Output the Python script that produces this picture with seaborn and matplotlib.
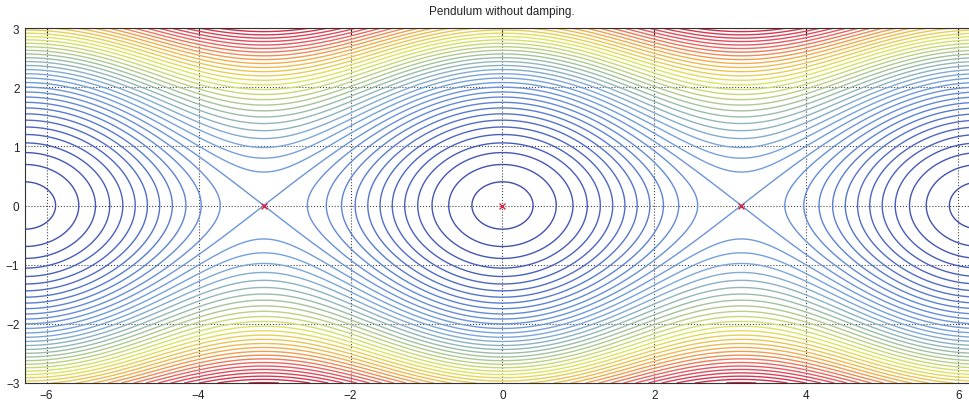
import numpy as np
import matplotlib
matplotlib.use("Agg")
import matplotlib.pyplot as plt
import seaborn as sns

# === Phase plane window (angle vs angular velocity)
x_limits = [-2 * np.pi, 2 * np.pi]
y_limits = [-3, 3]
x_ticks = [-6, -4, -2, 0, 2, 4, 6]
y_ticks = [-3, -2, -1, 0, 1, 2, 3]

# === Energy levels of the drawn contours (E = v^2/2 - cos(theta))
energy_levels = [
    -0.92, -0.76, -0.60, -0.44, -0.28, -0.12, 0.04, 0.20,
    0.36, 0.52, 0.68, 0.84, 1.00, 1.16, 1.32, 1.48,
    1.64, 1.80, 1.96, 2.12, 2.28, 2.44, 2.60, 2.76,
    2.92, 3.08, 3.24, 3.40, 3.56, 3.72, 3.88, 4.04,
    4.20, 4.36, 4.52, 4.68, 4.84, 5.00, 5.16, 5.32, 5.48,
]

# === Equilibrium points (red crosses)
eq_theta = [-np.pi, 0.0, np.pi]
eq_omega = [0.0, 0.0, 0.0]

# === Washed-out jet-like palette
line_colors = ["#3e4caa", "#4c64c2", "#6088d6", "#7aa6dc", "#a2c0a0",
               "#dce660", "#f2b04c", "#e65862", "#c82444"]

sns.set_style("white")
plt.rcParams['font.family'] = ['Liberation Sans', 'DejaVu Sans']
cmap = sns.blend_palette(line_colors, as_cmap=True)

theta = np.linspace(x_limits[0], x_limits[1], 600)
omega = np.linspace(y_limits[0], y_limits[1], 400)
TH, OM = np.meshgrid(theta, omega)
energy = OM ** 2 / 2 - np.cos(TH)

fig = plt.figure(figsize=(9.7, 4.02), dpi=100)
ax = fig.add_axes([25 / 970, 18 / 402, 955 / 970, 355 / 402])

ax.contour(TH, OM, energy, levels=energy_levels, cmap=cmap,
           vmin=-1, vmax=5.5, linewidths=1.0)
sns.scatterplot(x=eq_theta, y=eq_omega, marker='x', color='#e0203a',
                s=18, linewidth=1.0, ax=ax, zorder=5)

ax.set_xlim(x_limits)
ax.set_ylim(y_limits)
ax.set_xticks(x_ticks)
ax.set_yticks(y_ticks)
ax.set_xticklabels([str(v).replace('-', '\u2212') for v in x_ticks])
ax.set_yticklabels([str(v).replace('-', '\u2212') for v in y_ticks])
ax.tick_params(direction='in', length=5, width=0.8, labelsize=8.5,
               top=True, right=True, colors='#222222', pad=4)
ax.grid(True, linestyle=':', color='#444444', linewidth=0.8)
ax.set_axisbelow(True)
for spine in ax.spines.values():
    spine.set_color('#333333')
    spine.set_linewidth(0.8)

fig.text(502 / 970, 1 - 12 / 402, "Pendulum without damping.",
         ha='center', va='center', fontsize=8.5, color='#222222')

fig.savefig("out.png", dpi=100)
plt.close(fig)
